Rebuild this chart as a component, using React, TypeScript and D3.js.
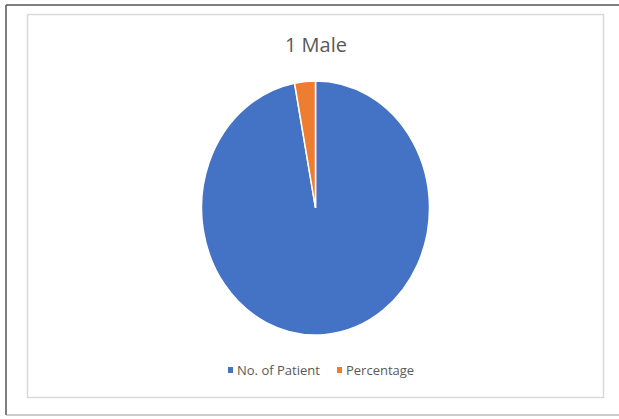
import React from "react";
import * as d3 from "d3";

const categories = ["No. of Patient", "Percentage"];
const values = [33, 1];
const colors = ["#4472C4", "#ED7D31"];
const title = "1 Male";

const W = 619;
const H = 419;

export default function App() {
  const cx = 315.5;
  const cy = 208;
  const rx = 114;
  const ry = 127;

  const pie = d3.pie<number>().sort(null).value((d) => d)(values);
  const arc = d3.arc<d3.PieArcDatum<number>>().innerRadius(0).outerRadius(rx);

  const font = "'Liberation Sans Narrow', 'Open Sans', Arial, sans-serif";

  const legendItems = [
    { x: 228, label: categories[0], color: colors[0] },
    { x: 337, label: categories[1], color: colors[1] },
  ];

  return (
    <div style={{ position: "fixed", left: 0, top: 0 }}>
      <svg width={W} height={H} style={{ display: "block", background: "#fff" }}>
        {/* outer frame */}
        <line x1={6} y1={5} x2={W} y2={5} stroke="#555" strokeWidth={1.5} />
        <line x1={6} y1={5} x2={6} y2={415} stroke="#555" strokeWidth={1.5} />
        <line x1={6} y1={415} x2={W} y2={415} stroke="#999" strokeWidth={1} />
        {/* chart area */}
        <rect x={27.5} y={14.5} width={576} height={383} fill="#fff" stroke="#d9d9d9" strokeWidth={1.5} />
        <text x={316} y={52} textAnchor="middle" fontFamily={font} fontSize={20} fill="#595959">
          {title}
        </text>
        <g transform={`translate(${cx},${cy}) scale(1,${ry / rx})`}>
          {pie.map((d, i) => (
            <path
              key={i}
              d={arc(d) || ""}
              fill={colors[i]}
              stroke="#fff"
              strokeWidth={1.5}
              vectorEffect="non-scaling-stroke"
            />
          ))}
        </g>
        {legendItems.map((it, i) => (
          <g key={i}>
            <rect x={it.x} y={367} width={5} height={6} fill={it.color} />
            <text x={it.x + 9} y={375} fontFamily={font} fontSize={13} fill="#595959">
              {it.label}
            </text>
          </g>
        ))}
      </svg>
    </div>
  );
}
